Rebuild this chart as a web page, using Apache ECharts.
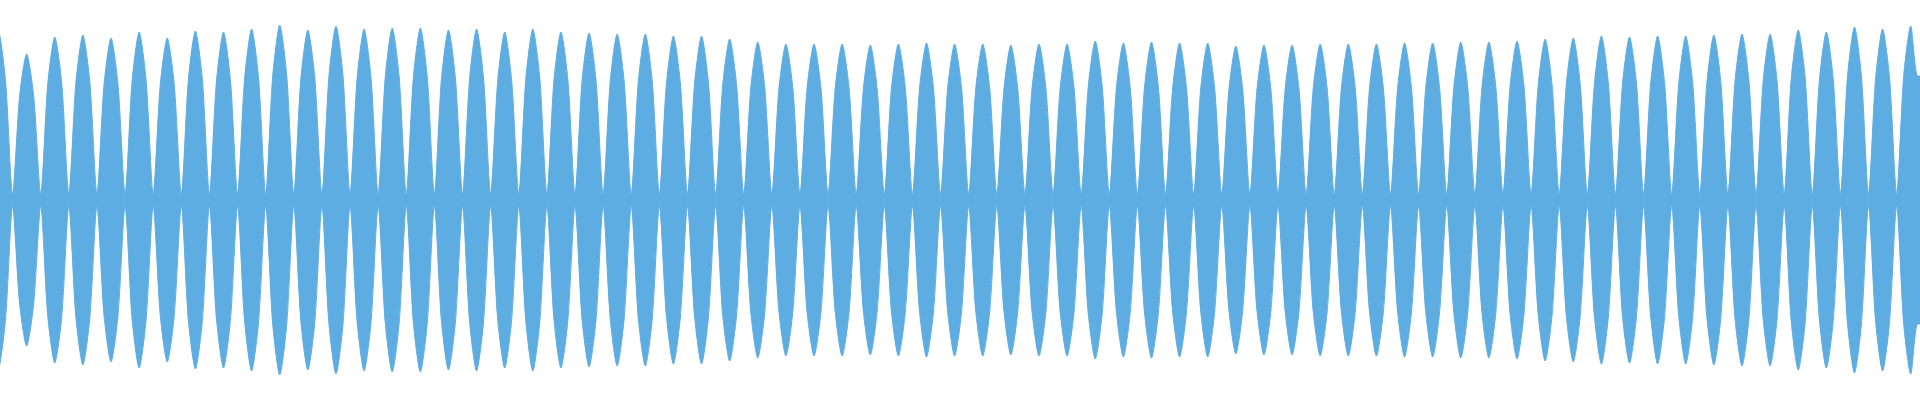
<!DOCTYPE html>
<html><head><meta charset="utf-8">
<script src="https://cdn.jsdelivr.net/npm/echarts@6/dist/echarts.min.js"></script>
<style>html,body{margin:0;padding:0;background:#fff}#c{width:1920px;height:400px}</style>
</head><body><div id="c"></div>
<script>
// lobe peak amplitudes (lobe -1 .. 67)
const peaks = [168,146,163,165,162,168,162,169,168,171,175,170,174,171,172,172,170,171,168,171,168,167,166,166,164,164,161,158,156,156,156,155,156,157,156,156,155,156,156,159,157,158,157,157,154,155,155,156,156,156,157,157,158,158,159,161,162,164,163,164,164,165,166,166,170,168,173,171,174];
// lobe shoulder amplitudes at quarter positions
const shoulders = [119,104,116,117,115,119,115,120,119,121,124,121,124,121,122,122,121,121,119,121,119,119,118,118,116,116,114,112,111,111,111,110,111,111,111,111,110,111,111,113,111,112,111,111,109,110,110,111,111,111,111,111,112,112,113,114,115,116,116,116,116,117,118,118,121,119,123,121,124];
const waist = 6;

const upper = [], lower = [];
for (let i = 0; i < peaks.length; i++) {
  const k = i - 1;
  const pts = [[k, waist], [k + 0.25, shoulders[i]], [k + 0.5, peaks[i]], [k + 0.75, shoulders[i]]];
  pts.forEach(p => { upper.push(p); lower.push([p[0], -p[1]]); });
}
upper.push([68, 124]); lower.push([68, -124]);

const col = '#5dace2';
const mk = d => ({type:'line', data:d, smooth:0.25, symbol:'none', clip:true,
  lineStyle:{color:col, width:1}, areaStyle:{color:col, opacity:1, origin:0}});
const chart = echarts.init(document.getElementById('c'), null, {renderer:'canvas'});
chart.setOption({
  animation:false,
  grid:{left:0, right:0, top:0, bottom:0},
  xAxis:{type:'value', min:-0.448, max:67.83, show:false},
  yAxis:{type:'value', min:-200, max:200, show:false},
  series:[mk(upper), mk(lower)]
});
</script></body></html>
